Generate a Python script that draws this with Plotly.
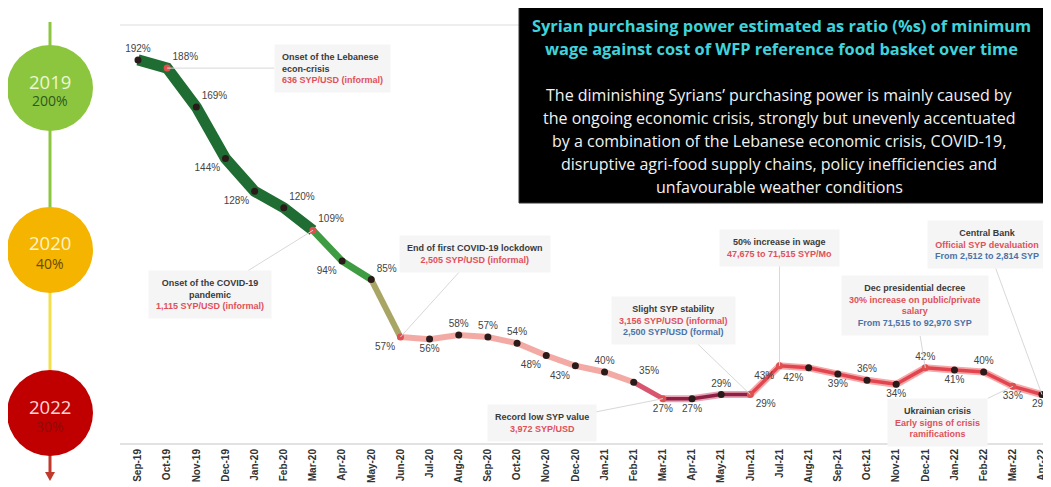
import plotly.graph_objects as go

months = ["Sep-19", "Oct-19", "Nov-19", "Dec-19", "Jan-20", "Feb-20", "Mar-20", "Apr-20",
          "May-20", "Jun-20", "Jul-20", "Aug-20", "Sep-20", "Oct-20", "Nov-20", "Dec-20",
          "Jan-21", "Feb-21", "Mar-21", "Apr-21", "May-21", "Jun-21", "Jul-21", "Aug-21",
          "Sep-21", "Oct-21", "Nov-21", "Dec-21", "Jan-22", "Feb-22", "Mar-22", "Apr-22"]
ratio = [192, 188, 169, 144, 128, 120, 109, 94, 85, 57, 56, 58, 57, 54, 48, 43,
         40, 35, 27, 27, 29, 29, 43, 42, 39, 36, 34, 42, 41, 40, 33, 29]
label_pos = ["top center", "top right", "top right", "bottom left", "bottom left", "top right",
             "top right", "bottom left", "top right", "bottom left", "bottom center", "top center",
             "top center", "top center", "bottom left", "bottom left", "top center", "top right",
             "bottom center", "bottom center", "top center", "bottom right", "bottom left",
             "bottom left", "bottom center", "top center", "bottom center", "top center",
             "bottom center", "top center", "bottom center", "bottom center"]
event_idx = [1, 6, 9, 18, 21, 22, 27, 30]

title_lines = ["Syrian purchasing power estimated as ratio (%s) of minimum",
               "wage against cost of WFP reference food basket over time"]
body_lines = ["The diminishing Syrians’ purchasing power is mainly caused by",
              "the ongoing economic crisis, strongly but unevenly accentuated",
              "by a combination of the Lebanese economic crisis, COVID-19,",
              "disruptive agri-food supply chains, policy inefficiencies and",
              "unfavourable weather conditions"]

# page has an 8px body margin; figure is sized so it ends at the window edge
OFF = 8
W, H = 1043, 479
L, R, T, B = 112, 0, 17, 44
PW, PH = W - L - R, H - T - B


def xp(px):  # page pixel -> paper
    return (px - OFF - L) / PW


def yp(py):
    return (H - B - (py - OFF)) / PH


RED = "#e0505a"
BLUE = "#4a72a8"
DARK = "#444444"

fig = go.Figure()

segments = [
    (0, 6, "#1f6d33", 11),
    (6, 8, "#3f9c42", 7),
    (8, 9, "#a9a665", 6),
    (9, 17, "#f3aaa4", 6),
    (17, 18, "#d9546e", 5),
]
for a, b, col, w in segments:
    fig.add_trace(go.Scatter(x=months[a:b + 1], y=ratio[a:b + 1], mode="lines",
                             line=dict(color=col, width=w), hoverinfo="skip", showlegend=False))
fig.add_trace(go.Scatter(x=months[18:22], y=ratio[18:22], mode="lines",
                         line=dict(color="#e9a3b3", width=7), hoverinfo="skip", showlegend=False))
fig.add_trace(go.Scatter(x=months[18:22], y=ratio[18:22], mode="lines",
                         line=dict(color="#8e2045", width=3.5), hoverinfo="skip", showlegend=False))
fig.add_trace(go.Scatter(x=months[21:], y=ratio[21:], mode="lines",
                         line=dict(color="#f6a7a7", width=7), hoverinfo="skip", showlegend=False))
fig.add_trace(go.Scatter(x=months[21:], y=ratio[21:], mode="lines",
                         line=dict(color="#e2454f", width=3.5), hoverinfo="skip", showlegend=False))

mcolors = ["#e05050" if i in event_idx else "#2a1a1a" for i in range(len(months))]
fig.add_trace(go.Scatter(
    x=months, y=ratio, mode="markers+text",
    marker=dict(color=mcolors, size=7),
    text=[f"{v}%" for v in ratio], textposition=label_pos,
    textfont=dict(family="Liberation Sans", size=10, color=DARK),
    hoverinfo="skip", showlegend=False))

ann = []


def box(xi, text, ax, ay, align="center"):
    ann.append(dict(x=months[xi], y=ratio[xi], xref="x", yref="y", text=text,
                    showarrow=True, arrowhead=0, arrowwidth=1, arrowcolor="#d8d8d8",
                    ax=ax, ay=ay, align=align, bgcolor="#f5f5f5", borderpad=7,
                    font=dict(family="Liberation Sans", size=9, color="#3a3a3a")))


def red(s):
    return f"<span style='color:{RED}'>{s}</span>"


def blue(s):
    return f"<span style='color:{BLUE}'>{s}</span>"


box(1, "<b>Onset of the Lebanese<br>econ-crisis<br>" + red("636 SYP/USD (informal)") + "</b>",
    165, 0, align="left")
box(6, "<b>Onset of the COVID-19<br>pandemic<br>" + red("1,115 SYP/USD (informal)") + "</b>",
    -103, 64)
box(9, "<b>End of first COVID-19 lockdown<br>" + red("2,505 SYP/USD (informal)") + "</b>",
    75, -83)
box(21, "<b>Slight SYP stability<br>" + red("3,156 SYP/USD (informal)") + "<br>"
    + blue("2,500 SYP/USD (formal)") + "</b>", -77, -74)
box(18, "<b>Record low SYP value<br>" + red("3,972 SYP/USD") + "</b>", -121, 24)
box(22, "<b>50% increase in wage<br>" + red("47,675 to 71,515 SYP/Mo") + "</b>", 0, -118)
box(27, "<b>Dec presidential decree<br>" + red("30% increase on public/private<br>salary")
    + "<br>" + blue("From 71,515 to 92,970 SYP") + "</b>", -10, -62)
box(31, "<b>Central Bank<br>" + red("Official SYP devaluation") + "<br>"
    + blue("From 2,512 to 2,814 SYP") + "</b>", -55, -150)
box(30, "<b>Ukrainian crisis<br>" + red("Early signs of crisis<br>ramifications") + "</b>",
    -75, 36)


def ptext(px, py, text, font):
    ann.append(dict(x=xp(px), y=yp(py), xref="paper", yref="paper", showarrow=False,
                    xanchor="center", yanchor="middle", text=text, font=font))


for i, line in enumerate(title_lines):
    ptext(781, 25 + 23 * i, f"<b>{line}</b>",
          dict(family="Open Sans", size=16.4, color="#3fd3dc"))
for i, line in enumerate(body_lines):
    ptext(779, 95 + 23 * i, line, dict(family="Open Sans", size=16, color="#f2f2f2"))

circles = [
    (88, "#8cc63f", "2019", "#eaf6d6", "200%", "#2e5a1c"),
    (250, "#f4b400", "2020", "#fff3c8", "40%", "#6b4a00"),
    (413, "#c00000", "2022", "#ffd6d6", "30%", "#8f0a0a"),
]
shapes = []
shapes.append(dict(type="line", xref="paper", yref="paper", x0=xp(50), x1=xp(50),
                   y0=yp(22), y1=yp(210), line=dict(color="#8cc63f", width=3), layer="below"))
shapes.append(dict(type="line", xref="paper", yref="paper", x0=xp(50), x1=xp(50),
                   y0=yp(290), y1=yp(372), line=dict(color="#f2e04a", width=3), layer="below"))
shapes.append(dict(type="line", xref="paper", yref="paper", x0=xp(50), x1=xp(50),
                   y0=yp(455), y1=yp(474), line=dict(color="#c0392b", width=3), layer="below"))
shapes.append(dict(type="path", xref="paper", yref="paper",
                   path=f"M {xp(45)} {yp(472)} L {xp(55)} {yp(472)} L {xp(50)} {yp(481)} Z",
                   fillcolor="#c0392b", line=dict(width=0)))
for cy, col, yr, ycol, pct, pcol in circles:
    shapes.append(dict(type="circle", xref="paper", yref="paper", x0=xp(7), x1=xp(93),
                       y0=yp(cy - 43), y1=yp(cy + 43), fillcolor=col, line=dict(width=0)))
    ptext(50, cy - 7, yr, dict(family="Open Sans", size=18.5, color=ycol))
    ptext(50, cy + 13, pct, dict(family="Open Sans", size=14, color=pcol))

shapes.append(dict(type="line", xref="paper", yref="paper", x0=0, x1=1, y0=1, y1=1,
                   line=dict(color="#eeeeee", width=2), layer="below"))
shapes.append(dict(type="rect", xref="paper", yref="paper", x0=xp(519), x1=xp(1048),
                   y0=yp(5), y1=yp(203), fillcolor="#000000", line=dict(color="#333333", width=1),
                   layer="below"))

fig.update_layout(
    width=W, height=H, margin=dict(l=L, r=R, t=T, b=B),
    paper_bgcolor="white", plot_bgcolor="rgba(0,0,0,0)",
    xaxis=dict(type="category", range=[-0.617, 31.31], showgrid=False, zeroline=False,
               showline=True, linecolor="#e2e2e2", linewidth=2, tickangle=-90, ticks="",
               tickfont=dict(family="Liberation Sans", size=10, color="#333333"),
               tickvals=months, ticktext=[f"<b>{m}</b>" for m in months]),
    yaxis=dict(range=[5.4, 209], visible=False),
    annotations=ann, shapes=shapes, showlegend=False,
)

fig.write_html("out.html")
